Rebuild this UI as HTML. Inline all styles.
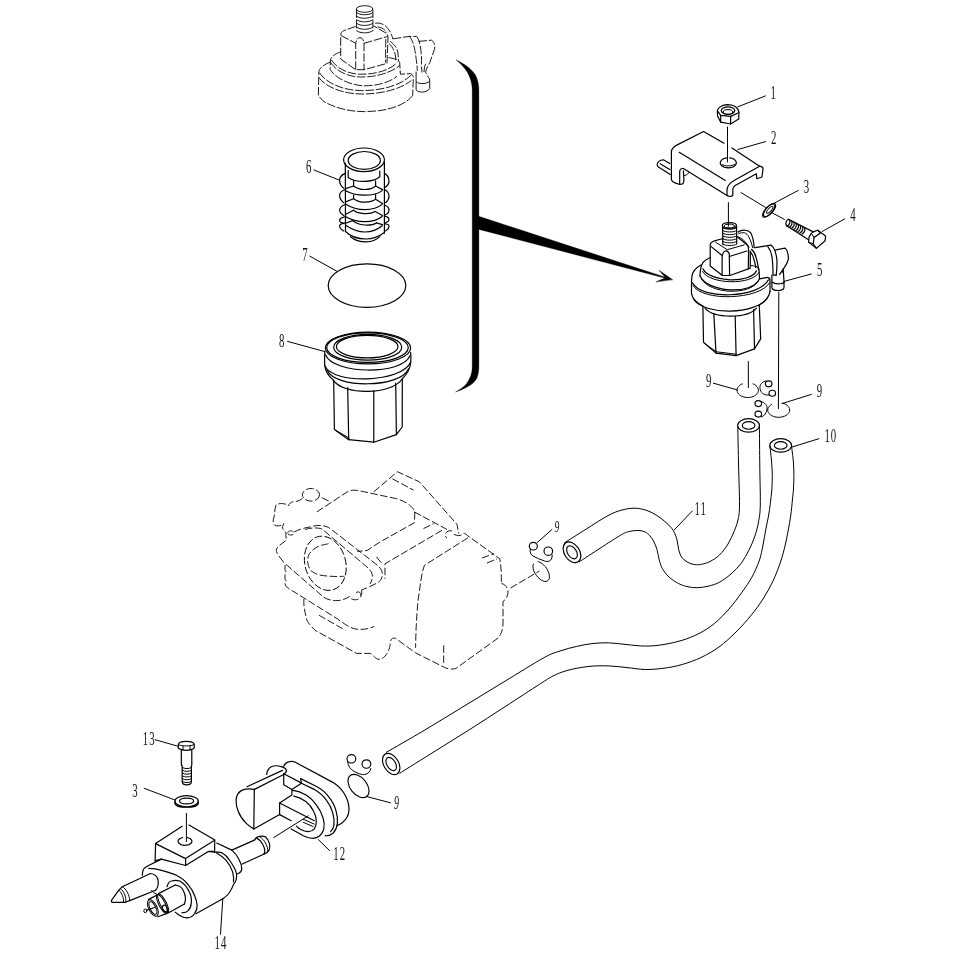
<!DOCTYPE html>
<html><head><meta charset="utf-8"><title>Fuel filter parts diagram</title>
<style>
html,body{margin:0;padding:0;background:#fff}
svg{display:block}
svg path,svg ellipse{fill:none;stroke:#000;stroke-width:1.2;stroke-linecap:round;stroke-linejoin:round}
svg .t path,svg .t ellipse,svg path.t,svg ellipse.t{stroke-width:1}
svg .h path{stroke-width:1}
svg .h ellipse{stroke-width:1.15}
svg .d path,svg .d ellipse,svg path.d,svg ellipse.d{stroke-width:0.9;stroke-dasharray:7.5 2.5;stroke-linecap:butt}
svg .dh path,svg .dh ellipse{stroke-dasharray:8.5 1.8}
svg .d .s path,svg .d .s ellipse{stroke-dasharray:none}
svg .w{fill:#fff}
svg .k{fill:#000}
svg text{font-family:"Liberation Serif",serif;fill:#111;stroke:none}
svg .tx{filter:grayscale(1)}
</style></head><body>
<svg width="956" height="956" viewBox="0 0 956 956">
<path class="k" style="stroke-width:.3" d="M456.3 60C463 63 471 68 475.5 75C478 80 478.9 85 478.9 90.2L478.9 216.3L665.4 277.2L665.4 278.3L478.9 229.4L478.9 366C478.9 371 478.3 375 476.5 379C473.5 384 466 388.5 455.5 392C462 388.5 466.5 385 469 379.5C471.5 375 472.2 371 472.2 366L472.2 90.2C472.2 84 470.5 78 467.5 72.5C464.5 67.5 460.5 63.5 456.3 60Z"/>
<path class="k" style="stroke-width:.4" d="M672.5 279.6L659 270.3L665.6 277.8L656.2 281.8Z"/>
<g class="h">
<path d="M564.5 542.8C568.1 540.5 578.8 533.7 586 529.2C593.2 524.7 602 518.8 608 515.6C614 512.4 617.5 511.2 622 510C626.5 508.8 631 508.1 635.2 508.2C639.4 508.3 643.4 509.3 647 510.5C650.6 511.7 653.8 513.6 657 515.6C660.2 517.6 663.3 520 666 522.5C668.7 525 671.5 527.6 673.3 530.5C675.1 533.4 676.1 536.8 677 540C677.9 543.2 678 546.8 678.7 549.6C679.5 552.4 680.1 555 681.5 557C682.9 559 685 560.6 686.9 561.8C688.8 563 690.7 563.8 693 564.3C695.3 564.8 697.7 565 700.5 564.5C703.3 564 706.8 563.1 710 561.5C713.2 559.9 716.5 557.9 719.5 555C722.5 552.1 725.5 548.1 728 544C730.5 539.9 732.8 534.7 734.5 530.5C736.2 526.3 737.4 523.2 738.2 519C739 514.8 739.4 513.8 739.5 505C739.6 496.2 738.9 479 738.6 466C738.3 453 737.9 433.5 737.8 427"/>
<path d="M579.4 561.8C582.8 559.5 593 552.8 600 548.3C607 543.8 616.6 537.4 621.6 534.6C626.6 531.8 627.3 532 630 531.3C632.7 530.6 635.6 530.5 637.9 530.5C640.2 530.5 642.2 530.8 644 531.5C645.8 532.2 647.2 533 648.8 534.6C650.4 536.2 652.1 538.5 653.5 541C654.9 543.5 656.1 546.6 657 549.6C657.9 552.6 658.1 555.8 659 559C659.9 562.2 660.7 565.6 662.4 568.6C664.1 571.6 666.3 574.5 669 577C671.7 579.5 675.5 582 678.7 583.6C681.9 585.2 684.8 586.1 688 586.8C691.2 587.5 694.2 587.8 697.7 587.7C701.2 587.6 705.4 586.9 709 586C712.6 585.1 715.8 584.2 719.5 582.2C723.2 580.2 727.4 577.2 731 574C734.6 570.8 738.3 567.2 741.3 563.2C744.3 559.2 746.7 554.5 749 550C751.3 545.5 753.3 540.7 754.9 536C756.5 531.3 757.6 527.2 758.5 522C759.4 516.8 760.1 514.3 760.3 505C760.5 495.7 759.9 479 759.8 466C759.6 453 759.5 433.5 759.4 427"/>
<ellipse cx="748.6" cy="425.4" rx="10.9" ry="6.7"/>
<ellipse cx="748.6" cy="425.4" rx="6.3" ry="3.8"/>
<ellipse cx="572" cy="552.3" rx="11.3" ry="7.6" transform="rotate(57 572 552.3)"/>
<ellipse cx="572" cy="552.3" rx="7.2" ry="4.4" transform="rotate(57 572 552.3)"/>
<path d="M769.9 446C770.2 448.7 771.2 456.9 771.6 462C772 467.1 772.3 471.8 772.3 476.5C772.3 481.2 772.1 485.6 771.8 490C771.5 494.4 770.9 498.5 770.4 502.8C769.9 507.1 769.3 511.5 768.5 516C767.7 520.5 766.6 525.2 765.7 530C764.8 534.8 764 540 763 545C762 550 761.3 554.7 759.5 560C757.7 565.3 754.9 571.6 752 577C749.1 582.4 745.8 586.9 742 592.2C738.2 597.5 733.6 603.8 729 609C724.4 614.2 719.4 619.4 714.4 623.5C709.4 627.6 704.4 630.7 699 633.5C693.6 636.3 688 638.5 682.2 640.3C676.4 642.1 670.1 643.5 664 644.5C657.9 645.5 651.6 646.1 645.4 646.1C639.2 646.1 633.1 645.2 627 644.6C620.9 644 614.3 643 608.5 642.8C602.7 642.6 597.4 643 592 643.6C586.6 644.2 581.6 645.3 576.3 646.5C571 647.7 565.4 649.1 560 651C554.6 652.9 553.4 652.5 544.1 657.6C534.8 662.7 517.4 673.7 504 681.8C490.6 689.9 477.3 698.1 464 706.2C450.7 714.3 436.9 722.8 424 730.5C411.1 738.2 392.6 748.7 386.3 752.3"/>
<path d="M791.5 446C791.8 448.7 793 456.9 793.4 462C793.8 467.1 793.9 471.8 793.9 476.5C793.9 481.2 793.6 486.1 793.4 490C793.1 493.9 792.8 495.8 792.4 500C792 504.2 791.5 510 790.8 515C790.1 520 789.3 524.8 788.3 530C787.3 535.2 786.3 540.7 785 546C783.7 551.3 782.5 556.2 780.5 562C778.5 567.8 775.9 574.8 773 581C770.1 587.2 766.6 593.3 763 599C759.4 604.7 755.7 609.7 751.2 615.2C746.7 620.7 741.4 626.7 736 632C730.6 637.3 724.8 642.8 719 647C713.2 651.2 707.1 654.6 701 657.5C694.9 660.4 688.4 662.7 682.2 664.5C676 666.3 670.1 667.4 664 668.2C657.9 669 651.6 669.6 645.4 669.5C639.2 669.4 633.1 668.2 627 667.6C620.9 667 615 666.1 608.5 665.9C602 665.7 594.9 665.7 588 666.5C581.1 667.3 572.9 668.9 567.1 670.5C561.3 672.1 557.6 673.7 553 676C548.4 678.3 547.5 679.2 539.5 684.3C531.5 689.4 516.6 699.2 505 706.7C493.4 714.2 481.7 721.9 470 729.3C458.3 736.7 446.7 743.9 435 751.2C423.3 758.5 405.7 769.5 399.8 773.2"/>
<ellipse cx="780.7" cy="445.4" rx="10.9" ry="6.7"/>
<ellipse cx="780.7" cy="445.4" rx="6.3" ry="3.8"/>
<ellipse cx="391.2" cy="764" rx="11.6" ry="7.4" transform="rotate(59 391.2 764)"/>
<ellipse cx="391.2" cy="764" rx="7.3" ry="4.3" transform="rotate(59 391.2 764)"/>
</g>
<g class="tx">
<text transform="translate(770.5 98.9) scale(0.6 1)" font-size="18">1</text>
<path class="t" d="M765.5 95.9L737.9 106.8"/>
<text transform="translate(770.9 143.9) scale(0.6 1)" font-size="18">2</text>
<path class="t" d="M765.5 141.6L737.9 149.5"/>
<text transform="translate(803.8 193.4) scale(0.6 1)" font-size="18">3</text>
<path class="t" d="M798.3 190.4L773.6 203.5"/>
<text transform="translate(850.3 221.3) scale(0.6 1)" font-size="18">4</text>
<path class="t" d="M844.7 218.9L822 231.6"/>
<text transform="translate(816.9 276.3) scale(0.6 1)" font-size="18">5</text>
<path class="t" d="M811.2 274L784.4 281.3"/>
<text transform="translate(306 173.3) scale(0.6 1)" font-size="18">6</text>
<path class="t" d="M314 170L339 180"/>
<text transform="translate(302.3 261.3) scale(0.6 1)" font-size="18">7</text>
<path class="t" d="M309.8 256.2L337 271.3"/>
<text transform="translate(279 347.1) scale(0.6 1)" font-size="18">8</text>
<path class="t" d="M287.6 341.4L324.4 351.5"/>
<text transform="translate(706 386.5) scale(0.6 1)" font-size="18">9</text>
<path class="t" d="M713.4 383.2L737.2 389.9"/>
<text transform="translate(816.7 397.3) scale(0.6 1)" font-size="18">9</text>
<path class="t" d="M811.3 394.4L782 403.6"/>
<text transform="translate(824.4 441.7) scale(0.6 1)" font-size="18" letter-spacing="1.6">10</text>
<path class="t" d="M818.9 438.7L791.8 447.1"/>
<text transform="translate(694.6 515.1) scale(0.6 1)" font-size="18" letter-spacing="1.6">11</text>
<path class="t" d="M692.3 511L674.1 530"/>
<text transform="translate(554.6 532.4) scale(0.55 1)" font-size="17.5" font-style="italic">9</text>
<path class="t" d="M552 529.5L537 542.7"/>
<text transform="translate(142.8 744.7) scale(0.6 1)" font-size="18" letter-spacing="1.6">13</text>
<path class="t" d="M155.1 739.7L178.5 746.4"/>
<text transform="translate(132.3 796.6) scale(0.6 1)" font-size="18">3</text>
<path class="t" d="M144.2 788.3L174.9 800"/>
<text transform="translate(333.3 860.3) scale(0.6 1)" font-size="18" letter-spacing="1.6">12</text>
<path class="t" d="M318.4 839.7L329.5 850.5"/>
<text transform="translate(394 809) scale(0.55 1)" font-size="18" font-style="italic">9</text>
<path class="t" d="M366.4 796.5L390.5 802.8"/>
<text transform="translate(214.6 949) scale(0.6 1)" font-size="18" letter-spacing="1.6">14</text>
<path class="t" d="M222.8 898.5L220.5 934.3"/>
</g>
<ellipse cx="367" cy="285.6" rx="38.8" ry="21.7"/>
<g class="">
<ellipse cx="364" cy="159.8" rx="20.4" ry="11.8"/>
<ellipse cx="364.3" cy="160.4" rx="16.1" ry="8.9"/>
<path d="M345.3 163L345.5 231.5"/>
<path d="M384.4 162L384.4 233.2"/>
<path d="M348.2 170.5L348.2 177.4C353 181 359 181.5 364.9 181.4C371 181.3 376 180 379.8 176.8L379.8 171.1"/>
<path d="M353.6 180.3L353.6 186C357 188.5 361 189.5 364.9 189.5C369 189.5 373 188.5 375.6 186L375.6 180.9"/>
<path d="M353.6 195.2L353.6 198.7C357 201.3 361 202.2 364.9 202.2C369 202.2 373 201.3 375.6 199.3L375.6 194.7"/>
<path d="M345.5 190.6 C351 194.1 358 195.2 364.9 195.2 C372 195.2 378 194.1 382.1 190.6"/>
<path d="M345.5 188.6 L353.6 186"/>
<path d="M382.5 189.6 L375.6 186"/>
<path d="M345.5 203.9 C351 207.4 358 209.6 364.9 209.6 C372 209.6 378 207.9 382.1 204.4"/>
<path d="M345.5 201.9 L353.6 198.7"/>
<path d="M382.5 203.4 L375.6 199.3"/>
<path d="M345.5 216.5 C351 220 358 221.7 364.9 221.7 C372 221.7 378 220 382.1 216.5"/>
<path d="M345.5 214.5 L353.4 210.2"/>
<path d="M382.5 215.5 L375.2 211.4"/>
<path d="M353.4 210.2 C358.4 214.2 370.2 214.7 375.2 211.4"/>
<path d="M345.5 225.2 C351 228.7 358 232 364.9 232 C372 232 378 229.2 382.1 225.7"/>
<path d="M345.5 223.2 L352.8 220.6"/>
<path d="M382.5 224.7 L376.4 222.9"/>
<path d="M352.8 220.6 C357.8 225.8 371.4 226.3 376.4 222.9"/>
<path d="M345.5 231.5C350 236 358 239 366 239C373 239 379 236.5 384.4 232.5"/>
<path d="M350.5 236.7C355 240.5 360 241.9 366 241.9C372 241.9 376.5 240 379.8 236.7"/>
<path d="M345.3 173.4 C341.5 174.9 339.6 177.3 339.6 180.3 C339.6 183.3 341 186.3 343.8 188.3"/>
<path d="M345.3 189.5 C341.5 191 339.6 192.2 339.6 195.2 C339.6 198.2 341 200.7 343.8 202.7"/>
<path d="M345.3 204.5 C341.5 206 339.6 207.2 339.6 210.2 C339.6 213.2 341 213.4 343.8 215.4"/>
<path d="M345.3 216.5 C341.5 218 339.6 217.6 339.6 220.6 C339.6 223.6 341 221.5 343.8 223.5"/>
<path d="M345.3 222.8 C341.5 224.3 339.6 223.3 339.6 226.3 C339.6 229.3 341 228.9 343.8 230.9"/>
<path d="M384.4 173.4 C387.5 174.9 389 178.4 389 181.4 C389 184.4 388 185.2 385.4 187.2"/>
<path d="M384.4 189.5 C387.5 191 389 193.4 389 196.4 C389 199.4 388 200.7 385.4 202.7"/>
<path d="M384.4 205 C387.5 206.5 389 207.2 389 210.2 C389 213.2 388 212.8 385.4 214.8"/>
<path d="M384.4 216 C387.5 217.5 389 216.4 389 219.4 C389 222.4 388 220.9 385.4 222.9"/>
<path d="M384.4 223.5 C387.5 225 389 223.3 389 226.3 C389 229.3 388 228.9 385.4 230.9"/>
</g>
<g class="">
<ellipse cx="368" cy="348" rx="42.6" ry="15.9"/>
<ellipse cx="367.5" cy="347.6" rx="40.8" ry="14.8"/>
<ellipse cx="367.7" cy="347.2" rx="34" ry="12.9"/>
<ellipse cx="367.2" cy="346.6" rx="30.8" ry="11.3"/>
<path d="M324.9 351C324.5 356 324.5 361 324.7 365.6C325.5 371 328.5 376 333.1 379.9"/>
<path d="M410.6 352.5C411 356 411 359 410.8 362.3C410 369 407 374.5 402.3 378.8"/>
<path d="M325.4 354.7C333.4 374.4 402 375.5 410 355.8"/>
<path d="M324.9 365.6C332.9 385.4 402.6 382.1 410.6 362.3"/>
<path d="M327.1 370C335.1 389.1 400.4 388 408.4 368.9"/>
<path d="M333.1 379.9C343.1 396 392.3 394.9 402.3 378.8"/>
<path d="M333.7 380.5L334.4 429.6L348.7 439.7L373.8 442.2L396.4 434.6L402.2 427L402.3 379"/>
<path d="M347.7 387.6L348.7 439.7"/>
<path d="M373.8 390.9L373.8 442.2"/>
<path d="M395.7 383.2L396.4 434.6"/>
<path class="t" d="M336 430.5L349 438"/>
</g>
<g class="d dh">
<g class="s">
<ellipse cx="364.6" cy="9" rx="8.2" ry="3.3"/>
<path d="M356.5 12.5 C360 15.5 369 15.5 372.9 12.5"/>
<path d="M356.5 16 C360 19 369 19 372.9 16"/>
<path d="M356.5 19.6 C360 22.6 369 22.6 372.9 19.6"/>
<path d="M356.5 23.2 C360 26.2 369 26.2 372.9 23.2"/>
<path d="M356.5 27 C360 30 369 30 372.9 27"/>
<path d="M356.5 30.6 C360 33.6 369 33.6 372.9 30.6"/>
</g>
<path d="M356.5 9.5L356.6 30.5"/>
<path d="M372.9 9.5L372.9 31"/>
<path d="M355.7 26.4L344 30.5C341.5 31.5 340.7 33 340.7 36L340.7 59L355.7 69.7L364 69.7L387 63.4L388 38C388 35 387.3 33.8 385 32.5L373.3 25.7"/>
<path d="M341 35.5L355.7 43.3"/>
<path d="M364 43.3L387.5 36.5"/>
<path d="M355.7 69.7L355.7 45C355.7 40 357.5 37.7 360 37.7C362.5 37.7 364 40 364 45L364 69.7"/>
<path d="M385.8 39L385.5 62.5"/>
<path d="M375.2 23.2C379 22.5 384 24 387 27.5C390 31 392 35 392.8 38.9"/>
<path d="M377.5 27C381 27 385 29.5 387 32.5"/>
<path d="M340.6 51.8C335 54 330.4 57 330.4 61L330.1 69.5C337 80 352 85 363 85.8C378 86 390 82 397 76.3"/>
<path d="M331.5 60C338 70 350 74 360.3 74.2C376 74.5 390 70 397 62.7"/>
<path d="M330.4 62.5C338 73 350 77 361.7 77C378 77 392 72 399.7 65.4"/>
<path d="M388.5 57.5C394 58.5 399.7 60 399.7 62.7L400.4 74.2L410.6 73.6C412.5 74.5 413.3 76 413.3 77.6L412.7 95.3"/>
<path d="M330.4 62C323 65 319 68.5 318.8 72.2L318.4 95.3C322 101 326 103 330.4 104.8C341 109.5 353 111.6 364.4 111.6C377 111.6 389 109.5 397 106.2C404 103.5 410 99.5 412.7 95.3"/>
<path d="M319.3 72.5C327 84 344 90.4 361.7 90.6C382 90.8 402 85 412 74.2"/>
<path d="M318.8 77.6C327 88 344 93.8 361.7 94C382 94.2 402 88.5 411.3 80.4"/>
<path d="M392.8 38.9L409 36.4L416.6 36.4"/>
<path d="M409 36.4C413.5 40 415.6 50 417.4 70.8"/>
<path d="M416.6 36.4C420 40 422 52 421.5 66.8"/>
<path d="M390.2 41.4C394 44 397 48 397.8 52C398.3 55 398.4 58 398.4 61.5"/>
<path d="M389 43.5C392 46 394 50 395 54C395.6 56 395.9 58 395.9 60.2"/>
<path d="M418.5 41.4L431.7 40.2C434.5 42.5 435.3 46 434.4 49.5C433 54 431 58.5 429.7 62.7C428 66 426 69 425.6 72.2C426.5 75 428.5 77.5 429.7 79"/>
<path d="M421.5 66.8L422 72.5"/>
<path d="M424 72L424.5 66.5L426.5 62"/>
<g class="s">
<path d="M416.1 71.5L416.1 89.9C418 93 427.5 93 429.7 88.5L429.7 79"/>
<path d="M416.1 81.7C419 84.5 427 84.2 429.7 81"/>
</g>
</g>
<g style="stroke-width:1.5">
<path d="M717.3 110.7C717.8 108.8 719 107.4 720.7 106.5C722.8 105.3 725 104.8 727.5 104.7C730.2 104.7 732.8 105.2 734.8 106.2C737 107.5 738.6 109.6 739 112.3L738.7 119.1L730.6 124L720.7 122.2L717.6 115.9Z"/>
<path d="M717.5 110.9L720.7 115.4L730.6 116.4L738.6 112.8"/>
<path d="M720.7 115.4L720.7 122.2"/>
<path d="M730.6 116.4L730.6 124"/>
<ellipse cx="728" cy="110.6" rx="6.8" ry="3.7"/>
</g>
<ellipse class="t" cx="728" cy="112" rx="4.8" ry="2.4"/>
<path class="t" d="M727.5 127L727.5 162"/>
<g class="">
<path d="M724 143.3L703.6 131.5L678.2 144.4C673.5 146.5 671.4 149 671.4 152L671.4 179.7C672 181.5 673.2 182.4 675 182.9L679.7 184.5C682 184.3 683.2 183.8 683.4 182.9C683.8 182 683.9 181 683.9 179.7L683.4 170.9"/>
<path d="M679.7 184.5L679.7 171.4C679.8 170 680.4 169.2 681.3 168.8C682 168.5 682.8 168.4 683.4 168.5L727 195.5"/>
<path class="t" d="M683.9 175.6C685.5 175.4 686.8 174.8 687.6 174C688.3 173.4 688.8 172.8 689.1 172.2"/>
<path d="M732 148L759.6 166.2"/>
<path d="M679.2 152.3L725.3 180.4"/>
<path d="M727 195.5C728.5 196.8 731.5 196.8 732.8 195.5L732.8 190C732.8 187 734.5 185.5 737 184.5L756.3 173.7L756.8 178.7L762 177L763 169C763 167.5 762 166.5 759.6 166.2L735 180C729.5 183 727 186 727 190L727 195.5"/>
<path d="M669.8 163.5L663.8 159.9C661.5 159.8 660 160.4 658.8 161.4C657.6 162.5 657 163.8 657.2 165.1C657.4 166 658 166.7 658.8 167.2L670.3 174.5"/>
<path d="M660.1 163.8L669.8 169.6"/>
<path d="M729.7 157.9C730 157.9 731 158.1 731.6 158.2C732.2 158.4 732.7 158.6 733.3 158.9C733.8 159.1 734.2 159.4 734.6 159.8C735 160.1 735.4 160.4 735.6 160.8C735.9 161.2 736.1 161.6 736.2 162C736.3 162.4 736.3 162.8 736.3 163.2C736.2 163.6 736.1 164.1 735.9 164.4C735.6 164.8 735.3 165.2 735 165.5C734.6 165.9 734.2 166.2 733.7 166.5C733.2 166.8 732.7 167 732.1 167.2C731.5 167.4 730.9 167.5 730.3 167.6C729.6 167.7 729 167.8 728.3 167.8C727.6 167.8 727 167.7 726.3 167.6C725.7 167.5 725.1 167.4 724.5 167.2C723.9 167 723.4 166.8 722.9 166.5C722.4 166.2 722 165.9 721.6 165.5C721.3 165.2 721 164.8 720.7 164.4C720.5 164.1 720.4 163.6 720.3 163.2C720.3 162.8 720.3 162.4 720.4 162C720.5 161.6 720.7 161.2 721 160.8C721.2 160.4 721.6 160.1 722 159.8C722.4 159.4 722.8 159.1 723.3 158.9C723.9 158.6 724.4 158.4 725 158.2C725.6 158.1 726.6 157.9 726.9 157.9"/>
<path class="t" d="M722 164.5C724.5 166.5 732 166.5 734.8 164.2"/>
</g>
<path class="t" d="M728.4 202.6L728.4 226.2"/>
<ellipse cx="769.6" cy="210" rx="8.3" ry="3.5" transform="rotate(-48 769.6 210)"/>
<ellipse class="t" cx="768.6" cy="210.6" rx="8.3" ry="3.5" transform="rotate(-48 768.6 210.6)"/>
<ellipse class="t" cx="769.8" cy="209.8" rx="4.4" ry="1.6" transform="rotate(-48 769.8 209.8)"/>
<path class="t" d="M741 192.6L765.5 207.4"/>
<path class="t" d="M772 212.7L784.4 219.4"/>
<g class="">
<path d="M788.5 219.3C786.3 219.8 785.2 222.8 786.4 225.5L808.5 239.7"/>
<path d="M788.5 219.3L813.2 231.9"/>
<path d="M789.3 219.8 C790.7 221.8 789.7 224.8 786.9 226.4"/>
<path d="M791.4 220.9 C792.8 222.9 791.8 225.9 789 227.5"/>
<path d="M793.6 222 C795 224 794 227 791.2 228.6"/>
<path d="M795.8 223.2 C797.1 225.2 796.1 228.2 793.4 229.8"/>
<path d="M797.9 224.3 C799.3 226.3 798.3 229.3 795.5 230.9"/>
<path d="M800 225.4 C801.4 227.4 800.4 230.4 797.6 232"/>
<path d="M802.2 226.5 C803.6 228.5 802.6 231.5 799.8 233.1"/>
<path d="M804.3 227.6 C805.7 229.6 804.7 232.6 801.9 234.2"/>
<path d="M813.2 231.9L817.7 230.2L825.6 236.1L825.1 240.7L816.4 248.4L808.5 242.1L809.2 236.7L811.4 233.4Z"/>
<path d="M817.7 230.2L820.4 233L814.1 237.6L813.2 243.8L816.4 248.4"/>
<path class="t" d="M811.4 233.4L814.1 237.6"/>
<path class="t" d="M808.5 242.1L813.2 243.8"/>
</g>
<g class="">
<ellipse cx="729.4" cy="225.6" rx="7.1" ry="2.9"/>
<ellipse class="t" cx="729.4" cy="226" rx="5.4" ry="1.9"/>
<path d="M722.6 226L722.8 244.5"/>
<path d="M736.6 226L736.7 243.6"/>
<path class="t" d="M722.8 227.8 C726 229.8 733.5 229.8 736.7 227.8"/>
<path class="t" d="M722.8 230.5 C726 232.5 733.5 232.5 736.7 230.5"/>
<path class="t" d="M722.8 233.2 C726 235.2 733.5 235.2 736.7 233.2"/>
<path class="t" d="M722.8 235.9 C726 237.9 733.5 237.9 736.7 235.9"/>
<path class="t" d="M722.8 238.7 C726 240.7 733.5 240.7 736.7 238.7"/>
<path class="t" d="M722.8 241.4 C726 243.4 733.5 243.4 736.7 241.4"/>
<path class="t" d="M722.8 244.1 C726 246.1 733.5 246.1 736.7 244.1"/>
<path d="M723.1 238.5L713.6 241.2C711.5 242 710.2 243.2 710.2 244.9L710.2 266L722.4 275.5L729.9 275.5L750.3 268.1L750.3 251"/>
<path d="M737.1 236.8L747.6 245.3C748.3 246.8 748.6 248.5 748.6 250.4L748.3 268.8"/>
<path d="M711.2 246.6L722.4 255.8"/>
<path class="t" d="M715.6 242.2L727.2 249.7L744.2 244.9"/>
<path d="M729.3 256.5L746.9 251"/>
<path d="M722.1 275.3L722.1 257.5C722.3 254.5 723.5 251.8 725.2 251C727 250.6 728.6 251.8 729.3 254L729.6 275.5"/>
<path d="M738.1 232C740 230.5 742.5 229.8 745.2 230.1C747.5 230.3 749.5 231.2 750.7 232.8C752.8 236.5 753.8 242 754.2 247.7"/>
<path class="t" d="M738.8 233.6C740.5 232.8 742.5 232.5 744.4 232.8C746.3 233.3 747.8 234.8 748.7 236.8C750.5 240 751.8 243.5 752.6 247.7"/>
<path class="t" d="M738.1 236.8C741.5 238 744.5 240.5 746.8 243.8L749 247.5"/>
<path d="M710.3 257.5C705.5 259.5 702.5 262 701.5 265.5C700.5 268.5 700 272 699.9 275.8"/>
<path d="M702.9 268.9C709.9 282.1 749.5 284.1 756.5 270.9"/>
<path class="t" d="M702.4 271.4C709.4 284.6 752 285.6 759 272.4"/>
<path d="M751 265.5C755.5 266 759 267.5 759 269.4L759.5 278.8L767.5 277.3C769 277.6 770 278.5 770 279.8L770 291.7"/>
<path d="M699.9 275.8C706.9 292.5 752.5 295.5 759.5 278.8"/>
<path class="t" d="M701.4 278.8C709.4 294.1 750.5 296.1 758.5 280.8"/>
<path d="M700.9 264.9C695.5 268 692.5 271.5 692 275.8C691.6 278.5 691.5 281 691.5 283.8L691.5 293.7C692.5 299 696.5 303 702.9 306.1"/>
<path d="M770 291.7C769 297.5 765 302 758.5 305.6"/>
<path d="M692.5 282.8C701.5 300.7 759.5 297.7 768.5 279.8"/>
<path class="t" d="M692.9 285.3C701.9 302.2 760.5 299.7 769.5 282.8"/>
<path d="M693.9 299.7C705.9 315.7 755 314.5 767 298.5"/>
<path d="M704.9 308.1C713.9 318.8 747.5 318.8 756.5 308.1"/>
<path d="M702.9 306.5L703.5 342.2L716 353.1L736.1 355.6L754.5 348.9L760.7 338.9L759.3 305.6"/>
<path d="M713.8 313.6L716 353.1"/>
<path d="M735.2 316L736.1 355.6"/>
<path d="M753.6 309.6L754.5 348.9"/>
<path class="t" d="M704.5 343.5L716.5 351.8"/>
<path class="t" d="M716.5 351.8L736.1 354.2"/>
<path d="M755 247.7L771.1 245.2"/>
<path d="M767.9 246.6C770 249.5 771.5 253 771.9 256.4C772.8 262 773 268 773 275.2L776.2 275.2"/>
<path d="M771.1 245.2C773 246.5 774.3 248.5 775 250.9C776.3 254.5 777 258.5 777 262.6C777 267 776.7 271 776.2 275.2"/>
<path d="M775 250.1L784.8 248.1C786.3 249 787.2 250.5 787.5 252.4C788.2 254.5 788.5 257 788.3 259.5C787.5 262.5 786 265 784.4 267.3L779.7 274.4L782.8 269.8L783.2 273"/>
<path d="M783.2 268.9L784 281.5"/>
<path d="M771.9 275.2L771.9 287.7C772.3 289 775 290.5 778.1 290.5C781 290.5 783.6 289.5 784 287.7L784 281.5"/>
<path d="M772 282C774 283.6 776 283.9 778.1 283.9C780.5 283.9 782.5 283.5 784 282.4"/>
<path d="M751.5 249.3C754 251.5 755.5 254.5 756.2 257.9C757.5 262 758.2 266 758.5 269.7"/>
<path d="M750.3 251.7C752.3 254 753.5 257 754.2 260.3C755 263 755.5 265 755.8 267.3"/>
</g>
<path class="t" d="M778.8 292L778.4 408.6"/>
<path class="t" d="M748.3 361.5L748.4 387.5"/>
<g class="h">
<path d="M753.1 383.9C753.3 384 754.1 384.3 754.6 384.6C755.1 384.9 755.5 385.2 755.9 385.5C756.3 385.8 756.7 386.2 757 386.6C757.3 386.9 757.5 387.3 757.8 387.7C758 388.1 758.1 388.5 758.2 388.9C758.3 389.3 758.4 389.8 758.4 390.2C758.4 390.6 758.3 391.1 758.2 391.5C758.1 391.9 758 392.3 757.8 392.7C757.5 393.1 757.3 393.5 757 393.8C756.7 394.2 756.3 394.6 755.9 394.9C755.5 395.2 755.1 395.5 754.6 395.8C754.1 396.1 753.6 396.3 753.1 396.5C752.5 396.7 751.9 396.9 751.4 397.1C750.8 397.2 750.2 397.3 749.6 397.4C748.9 397.5 748.3 397.5 747.7 397.5C747.1 397.5 746.5 397.5 745.8 397.4C745.2 397.3 744.6 397.2 744 397.1C743.5 396.9 742.9 396.7 742.4 396.5C741.8 396.3 741.3 396.1 740.8 395.8C740.3 395.5 739.9 395.2 739.5 394.9C739.1 394.6 738.7 394.2 738.4 393.8C738.1 393.5 737.9 393.1 737.6 392.7C737.4 392.3 737.3 391.9 737.2 391.5C737.1 391.1 737 390.6 737 390.2C737 389.8 737.1 389.3 737.2 388.9C737.3 388.5 737.4 388.1 737.6 387.7C737.9 387.3 738.1 386.9 738.4 386.6C738.7 386.2 739.1 385.8 739.5 385.5C739.9 385.2 740.3 384.9 740.8 384.6C741.3 384.3 742.1 384 742.4 383.9"/>
<ellipse cx="768.7" cy="383.8" rx="3.3" ry="3"/>
<ellipse cx="772.3" cy="393.2" rx="3.3" ry="3"/>
<path d="M766.5 381C761.5 381.5 759.5 385 760 388.5C760.5 392.5 763.5 395.5 769 395"/>
<path d="M782.5 403.1C782.8 403.2 783.6 403.5 784.2 403.7C784.8 403.9 785.3 404.1 785.8 404.4C786.3 404.7 786.7 405 787.1 405.3C787.5 405.6 787.9 406 788.2 406.4C788.5 406.7 788.8 407.1 789 407.5C789.3 407.9 789.4 408.3 789.5 408.7C789.6 409.1 789.7 409.6 789.7 410C789.7 410.4 789.6 410.9 789.5 411.3C789.4 411.7 789.3 412.1 789 412.5C788.8 412.9 788.5 413.3 788.2 413.6C787.9 414 787.5 414.4 787.1 414.7C786.7 415 786.3 415.3 785.8 415.6C785.3 415.9 784.8 416.1 784.2 416.3C783.6 416.5 783.1 416.7 782.5 416.9C781.9 417 781.2 417.1 780.6 417.2C780 417.3 779.3 417.3 778.7 417.3C778.1 417.3 777.4 417.3 776.8 417.2C776.2 417.1 775.5 417 774.9 416.9C774.3 416.7 773.8 416.5 773.2 416.3C772.6 416.1 772.1 415.9 771.6 415.6C771.1 415.3 770.7 415 770.3 414.7C769.9 414.4 769.5 414 769.2 413.6C768.9 413.3 768.6 412.9 768.4 412.5C768.1 412.1 768 411.7 767.9 411.3C767.8 410.9 767.7 410.4 767.7 410C767.7 409.6 767.8 409.1 767.9 408.7C768 408.3 768.1 407.9 768.4 407.5C768.6 407.1 768.9 406.7 769.2 406.4C769.5 406 769.9 405.6 770.3 405.3C770.7 405 771.4 404.6 771.6 404.4"/>
<ellipse cx="758.3" cy="403.6" rx="3.3" ry="3"/>
<ellipse cx="758.3" cy="414.1" rx="3.3" ry="3"/>
<path d="M761 401.5C765 402.5 767.5 405.5 767 409C766.5 413 764.5 416 761.5 417"/>
</g>
<g class="d">
<path d="M328.6 501L320.5 497"/>
<ellipse cx="311" cy="494.8" rx="8.6" ry="6.3"/>
<path d="M302.5 498C301 500.5 297 501.5 294 501.5C291 502 289 503.5 288.5 506C286.5 503.5 279.5 502.5 276 505C274.5 509 275 513 274 517C272.5 521 273 524 275 525.5C278 526.5 282 525.5 284 523.5C281.5 526.5 282.5 530.5 286 532.5C285.5 535 286.5 538 286 540.5C282 543.5 278 546 276.5 549C276 551.5 277 553.5 278.5 555.5L283.4 562"/>
<path d="M287 533.5C289.5 529.5 293.5 530.5 294 533.5C292.5 535.5 290 535.5 288 534"/>
<path d="M294 532C299 529.5 305 527.5 310.2 527C316 525 322 525 326 526.5C328 527 329.5 528 330.5 528.8L375.5 563.8C380 567 382.5 570.5 382.3 574.5C382 578 381 580 379.5 581.5C374 585 367 588 361.5 590"/>
<path d="M305 529.5C311 527.5 318 527.5 322 529L367 567C371 570.5 373 574 372.3 578C372 580.5 371 582.5 370 584"/>
<path d="M361.5 590C362.5 594 361 598 357.5 599.5C354 600.5 350.5 599 349.5 596.5C346 599 340 601 335.3 600.6C330.5 600.5 326.5 599 323.6 597.2L283.4 562.1"/>
<path d="M356 592.5C359 591 361 592.5 360.5 595.5"/>
<ellipse cx="325.3" cy="563.3" rx="20.3" ry="27.6" transform="rotate(-16 325.3 563.3)"/>
<path d="M328.6 543.7C326.8 544.2 321.2 544.9 318 546.5C314.8 548.1 311.2 550.9 309.5 553.5C307.8 556.1 307.5 559.2 307.7 562C307.9 564.8 308.8 567.9 310.5 570C312.2 572.1 315.2 573.5 318 574.5C320.8 575.5 324 575.7 327 576C330 576.3 333.1 576.5 336 576.5C338.9 576.5 343.1 576.3 344.5 576.3"/>
<path d="M316.9 511.9L344 494C347.5 491.5 350.5 490.2 354 490.2C357 490.2 359 490.7 360.4 491L395.6 498.5C402 500 408 503.5 410.6 506C413.5 508.5 414.8 511 414.8 514L414.3 522.8L380 542L367.1 550.4C364 551 360 551.3 357.1 551.2"/>
<path d="M373.8 491.8L397.4 471.7L419.3 481.8L457 524.4L458.7 533.6"/>
<path d="M392.4 478.8L413.5 490.1"/>
<path d="M414.3 511.9L447 529.5"/>
<path d="M423.5 528.6L433.6 523.6"/>
<path d="M442 530.3L385 563.8L385 578.8"/>
<path d="M376.5 557L381.5 563"/>
<path d="M452 531C448.5 530 445.5 532 445.3 535C445.3 536.5 446 537.5 447 538"/>
<path d="M454 534.5C458 536 461 536 462.5 534C464.5 533 466.5 534 467 535.3L499.7 558.7C501 565 501.3 571 501.3 577.2L501.5 583.5"/>
<path d="M501.5 583.5C505.5 584.5 508 588 508 592C508 596 505.5 600 503 601.4L503 625C502.5 631 500.5 635 498.4 637.8L455.8 668.5C452.5 669.5 449 669 445.7 668L415.6 652.9L395.5 638.3C393 637.5 391 638.5 390.5 641.6C390 646 389.5 649 388 651.6C386 656 382 660 377.9 659.2C375.5 658.5 374 656 370.4 653.4L356.6 653.4L315.1 630.3C310 625 306.5 621.5 306.4 617.7C304.5 611 303.5 605 303.9 598.9"/>
<path d="M467.9 537.8L424.4 565.4C422 572 421 579 420.2 585.5L418.1 600.2C416.5 616 415.8 632 415.6 647.9"/>
<path d="M482 558L493.8 553.7"/>
<path d="M487 563L497.2 558.7"/>
<path d="M443.7 645.4L443.7 665.4"/>
<path d="M285 565L285 570.5C286.5 571.5 287 573 285 574.5L285 579.5C286.5 580.5 287 582 285 583.5C285 586 287 587.5 289.5 589L337.7 619C343 623 349 627.5 355.3 629C362 630 369 629 374.1 626.5"/>
<path d="M318.9 615.2L345.3 630.3"/>
<path d="M510.5 588L539.5 571"/>
</g>
<g class="h">
<ellipse cx="533.3" cy="546.2" rx="4" ry="3.8"/>
<ellipse cx="548.3" cy="551.2" rx="4.3" ry="4.2"/>
<path d="M530.3 549C529.5 552 530.5 554.5 533 556C536.5 558 541 559.8 544.5 561C548 562.2 551 561 551.8 558C552.3 556.5 552.3 555.5 552 554.5"/>
<path d="M538.1 561.7C538.4 561.8 539.1 561.9 539.5 562.1C540 562.3 540.5 562.6 541 562.9C541.5 563.2 542 563.5 542.5 563.9C543 564.3 543.5 564.7 543.9 565.2C544.4 565.6 544.9 566.1 545.3 566.6C545.7 567.2 546.1 567.7 546.5 568.3C546.9 568.8 547.2 569.4 547.5 570C547.9 570.6 548.1 571.2 548.4 571.8C548.6 572.4 548.8 573 549 573.6C549.1 574.1 549.3 574.7 549.3 575.3C549.4 575.8 549.4 576.4 549.4 576.8C549.4 577.3 549.4 577.8 549.3 578.3C549.1 578.7 549 579.1 548.8 579.5C548.6 579.8 548.4 580.1 548.1 580.4C547.9 580.6 547.6 580.9 547.2 581C546.9 581.2 546.5 581.3 546.1 581.4C545.7 581.4 545.3 581.4 544.8 581.4C544.4 581.3 543.9 581.2 543.5 581.1C543 580.9 542.5 580.7 542 580.5C541.5 580.2 541 579.9 540.5 579.6C540 579.2 539.5 578.8 539.1 578.4C538.6 578 538.1 577.5 537.7 577C537.2 576.5 536.8 576 536.4 575.4C536 574.9 535.6 574.3 535.3 573.7C534.9 573.2 534.6 572.6 534.3 572C534.1 571.4 533.8 570.8 533.6 570.2C533.4 569.6 533.3 569 533.2 568.4C533.1 567.9 533 567.3 533 566.8C533 566.3 533 565.8 533 565.3C533.1 564.8 533.3 564.2 533.4 564"/>
</g>
<g class="">
<path d="M178.3 744.5C178.3 742.5 182 741.3 186.2 741.3C190.5 741.3 194.2 742.5 194.2 744.5L194.2 748C192 750 188.5 750.3 186.2 750.3C184 750.3 180.5 750 178.3 748Z"/>
<path class="t" d="M178.3 744.5C181 746.5 191.5 746.5 194.2 744.5"/>
<path class="t" d="M183 746L183 750"/>
<path class="t" d="M190 746L190 750"/>
<path d="M181.3 749.8L181.4 765.3L182.2 765.8L182.2 781.5C182.2 784 184.5 784.8 186.8 784.8C189 784.8 191.4 784 191.4 781.5L191.4 765.8L191.8 765.3L191.8 749.8"/>
<path class="t" d="M182.2 767.5 C185 769 189 769 191.5 767.5"/>
<path class="t" d="M182.2 770.3 C185 771.8 189 771.8 191.5 770.3"/>
<path class="t" d="M182.2 773.1 C185 774.6 189 774.6 191.5 773.1"/>
<path class="t" d="M182.2 775.9 C185 777.4 189 777.4 191.5 775.9"/>
<path class="t" d="M182.2 778.7 C185 780.2 189 780.2 191.5 778.7"/>
<path class="t" d="M182.2 781.5 C185 783 189 783 191.5 781.5"/>
</g>
<ellipse cx="186.6" cy="801.2" rx="11.7" ry="5.6"/>
<ellipse cx="186.6" cy="801" rx="7" ry="2.9"/>
<path d="M174.9 801.5L174.9 803.5C176 808.5 197 808.5 198.3 803.5L198.3 801.5"/>
<path class="t" d="M186.4 813.4L186.4 841.5"/>
<g style="stroke-width:1.1">
<path d="M182.1 826.3L155.6 843.6L185.6 858.6L214.9 840.1L189 825"/>
<path d="M155.6 843.6L155.1 860.9"/>
<path d="M185.6 858.6L185.6 865.5"/>
<path d="M214.7 840.3L214.6 852.2"/>
<path d="M155.1 860.9L161.4 859.1L185.6 865.5L208.3 851.4L214.6 852.2"/>
<path d="M187.4 837.5C187.6 837.6 188.3 837.8 188.8 838C189.2 838.1 189.7 838.3 190 838.6C190.4 838.8 190.7 839 191 839.3C191.2 839.6 191.5 839.9 191.6 840.2C191.8 840.4 191.9 840.8 191.9 841.1C191.9 841.4 191.9 841.7 191.8 842C191.7 842.3 191.5 842.6 191.3 842.9C191.1 843.2 190.9 843.4 190.5 843.7C190.2 843.9 189.8 844.2 189.4 844.4C189 844.6 188.6 844.7 188.1 844.9C187.6 845 187.1 845.1 186.6 845.2C186.1 845.3 185.5 845.3 185 845.3C184.5 845.3 183.9 845.3 183.4 845.2C182.9 845.1 182.4 845 181.9 844.9C181.4 844.7 181 844.6 180.6 844.4C180.2 844.2 179.8 843.9 179.5 843.7C179.1 843.4 178.9 843.2 178.7 842.9C178.5 842.6 178.3 842.3 178.2 842C178.1 841.7 178.1 841.4 178.1 841.1C178.1 840.8 178.2 840.4 178.4 840.2C178.5 839.9 178.8 839.6 179 839.3C179.3 839 179.6 838.8 180 838.6C180.3 838.3 180.8 838.1 181.2 838C181.7 837.8 182.4 837.6 182.6 837.5"/>
<path d="M161.4 859.1L147.6 866C145 867.3 143.3 869 143 870.6C142.5 872 142.4 873.5 142.4 875.2"/>
<path d="M148.7 868.3C153 868.3 158 869.2 162.5 870.6C167.5 872 172 873.3 176.3 875.2C181 877.5 185 880.5 187.9 884.4C191 888 193.3 892 194.8 896C196 899 196.8 902 197.1 905.2C197.3 908.5 196.5 911 194.8 913.2C193 916 190.5 917.5 187.9 917.8C185 918 182 917 179.8 915.5C178 914.5 176.5 913.3 175.2 912.1"/>
<path d="M211.1 851L215 851.8C217.5 851.8 219.5 852 221.7 852.6C225 854.5 228 857.5 230.1 861C232.5 864.5 234.8 868 236 871.9C236.8 874 236.8 876.5 236.4 878.6C236 881 235 883 233.5 884.4C231.5 890 228 895.5 223.3 898.5L195.9 913.8"/>
<path d="M216 852.4C219.5 854.5 223 857 225.9 860.1C229 863.5 231.2 867.5 232.6 871.9C233.5 875 233.8 878.5 233.5 881.9"/>
<path d="M216.7 843L231.8 850.1C234.5 852.5 237 855.5 238.5 858.5C240.3 861.5 241.5 865 241.8 868.5C241.8 870.5 240.5 872.5 238.5 873.5L236.6 874"/>
<path d="M231.8 850.1L254.4 840.1"/>
<path d="M241.8 864.3L263.6 854.3"/>
<path d="M254.4 840.1C255.5 838 257.5 836.6 259.4 836.3C261.5 836 263.5 836 265.3 836.7C267.5 838.5 268.8 841 269.4 843.4C270 845.5 270 847.5 269.4 849.3C268.5 851.5 266.5 853.3 263.6 854.3"/>
<path d="M256.9 838.4C259.5 839.5 261.5 841.5 262.7 844.2C264 846.5 264.7 848.8 264.8 850.9C264.8 852.3 264.4 853.5 263.6 854.3"/>
<path class="t" d="M259.8 836.8C262.5 838.5 264.8 841 266.1 844.2C267.2 846.5 267.8 848.8 267.8 850.9"/>
<path d="M150.5 873.5L122.3 886.7"/>
<path d="M155.6 890.2L129.7 900.6"/>
<path d="M150.5 873.5C154 874 156.8 875.5 157.8 879C158.8 883 158.5 887 155.6 890.2"/>
<path d="M122.3 886.7L118.8 890.2L111.3 900.6L111.9 902.3L125.1 902.3L129.7 900.6"/>
<path class="t" d="M122.3 886.7C126.5 889 129.5 895 129.7 900.6"/>
<path class="t" d="M120.3 888.5C124 891 126.5 897 125.8 902.3"/>
<path class="t" d="M118.8 890.2C122 893 124 898 123.5 902.3"/>
<path class="t" d="M151.6 890.2C152.5 892 154 893.3 156.5 894"/>
<path d="M167.1 886.7C168 883 170 881 171.7 881C175 880 178 880.5 179.8 881C184 883.5 187 887 189 891.3C191 895 191.8 899 191.3 902.9C191 906.5 190 909 187.9 910.9C186 912.5 184 913 182 912.5"/>
<path d="M175.2 885L158.5 893.6"/>
<path d="M184.4 904L167.7 913.2"/>
<path d="M175.2 885C179 885.5 182.1 887 183.5 891C185.5 895 186 900 184.4 904"/>
<ellipse class="t" cx="163.2" cy="903.4" rx="3.2" ry="10.4" transform="rotate(-27 163.2 903.4)"/>
<ellipse class="t" cx="162" cy="904" rx="3.2" ry="10.4" transform="rotate(-27 162 904)"/>
<path d="M158.5 894.2L148.7 899.4"/>
<path d="M166.5 913.6L157.9 916.7"/>
<ellipse class="t" cx="152.9" cy="908" rx="4.2" ry="8.9" transform="rotate(-26 152.9 908)"/>
<ellipse class="t" cx="152.9" cy="908" rx="2.8" ry="6.8" transform="rotate(-26 152.9 908)"/>
<ellipse cx="164.8" cy="908.6" rx="2.4" ry="3.4" transform="rotate(-20 164.8 908.6)"/>
<path d="M154.5 907.5L146.5 910.3"/>
<ellipse class="t" cx="145.3" cy="910.9" rx="1.5" ry="1.9"/>
</g>
<g style="stroke-width:1.1">
<path d="M254.5 789.4C250 788.5 245.5 788.8 242.2 790.1C238.5 792 236.3 795.5 236.1 800.3C236 804 236.8 807.8 238.2 811.2C240 816 242.8 820 246.3 823.4C248.5 825.5 251 827.5 253.8 828.9"/>
<path d="M254.3 789.4L253.8 828.9"/>
<path d="M247 786.7L282.4 770.4"/>
<path d="M254.5 789.4L283.7 774.5"/>
<path d="M253.8 828.9L279.6 814.6"/>
<path d="M266.7 774.5C267 771 268.5 768.5 270.8 767C274 765.5 277.5 765.5 280.3 766.3C283.5 767 286 768.5 286.4 770.4C286.4 772 285.3 773.2 283.7 773.8"/>
<path d="M283.7 773.8L283.7 784.7L291.9 789.4L291.9 794.9L279.6 803L279.6 814.6"/>
<path d="M283.7 773.8L300.7 782.6"/>
<path d="M291.9 789.4L301.4 783.3"/>
<path d="M300.7 778.6L301.4 783.3"/>
<path d="M279.6 803L314.3 820.7"/>
<path d="M279.6 814.6L291.2 820.7"/>
<path d="M283.7 766.3C284.8 763.5 287 762 289.8 761.6C291.8 761.3 293.8 761.5 295.3 762.2L333.3 782.6C337.5 785.5 341.5 789 344.2 793.5C347 798 348.8 803 349 808.5C349 812.5 348 816.5 345.6 819.3C343.5 822 340.5 824.3 337.4 825.5"/>
<path d="M300.7 778.6L317 786.7C322 789.5 326.3 793 329.3 797.6C332.5 801.5 334.8 806 336.1 811.2C337.3 815 337.8 819.5 337.4 823.4C337 827.5 335.5 830.5 333.3 833C331 835 328 836 325.2 835.7"/>
<path d="M301.4 783.3L314.3 789.4C319 792 323.3 795.5 326.5 800.3C329.5 804 331.5 808 332.7 812.6C333.8 816.5 334.3 821 334 824.8C333.6 827.5 332.5 830 330.6 831.6"/>
<path d="M291.9 790.1C297 790.8 301.8 792.3 306.1 794.9C310.5 797.5 314 801.5 317 805.8C319.8 809.5 321.8 813.5 323.1 818C324.2 821.5 324.5 825.5 323.8 828.9C323.2 831.8 321.8 834 319.7 835.7C317.8 837.3 315.5 838.2 312.9 838.4C309.5 838.3 306.3 837.2 303.4 835.7L291.2 828.9"/>
<path d="M293.9 796.2C298.5 797 302.5 799 306.1 801.7C309.3 804.3 311.8 807.5 313.6 811.2C315.2 814.2 316.1 817.5 316.3 820.7C316.5 823.8 315.8 826.7 314.3 828.9C312.8 830.6 310.6 831.6 308.2 831.6C305.5 831.5 303 830.8 300.7 829.5C299.2 828.6 297.8 827.5 296.6 826.1"/>
<path class="t" d="M303.4 819.3L314.3 824.1"/>
<path class="t" d="M303.4 822.4L313 826.5"/>
</g>
<path class="t" d="M273.5 837.7L308.2 815.9"/>
<g class="h">
<ellipse cx="358.5" cy="786" rx="13.3" ry="8.3" transform="rotate(52 358.5 786)"/>
<ellipse cx="351.4" cy="758.8" rx="4.4" ry="4.2"/>
<ellipse cx="366.4" cy="764" rx="4.4" ry="4.2"/>
<path d="M347.6 761.5C348 766 350.5 769.5 354 771.4C358 773.5 362 775 364.6 774.6C368 774 370.5 771.5 370.8 768.5"/>
</g>
</svg>
</body></html>
